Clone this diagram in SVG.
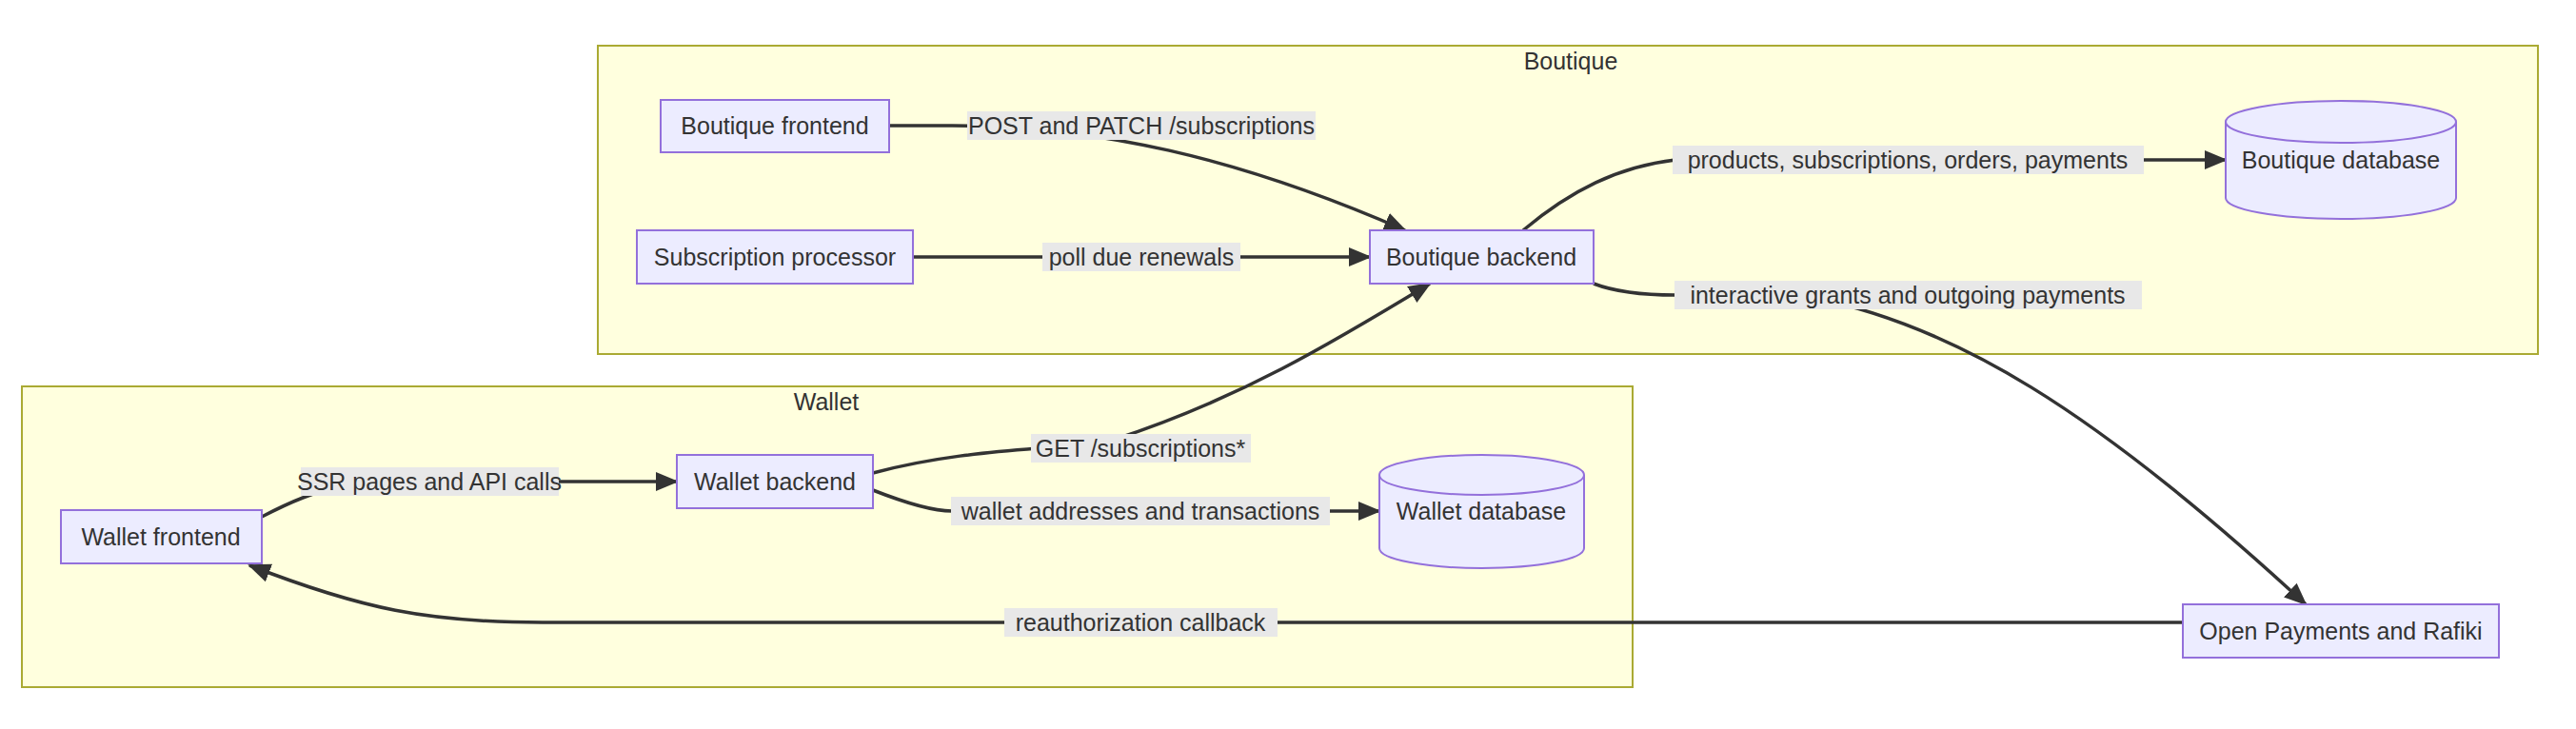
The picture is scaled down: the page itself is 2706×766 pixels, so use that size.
<svg xmlns="http://www.w3.org/2000/svg" width="2706" height="766" viewBox="0 0 2706 766">
<style>
.cl{fill:#ffffde;stroke:#aaaa33;stroke-width:2}
.nd{fill:#ececff;stroke:#9370db;stroke-width:2}
.t{font-family:"Liberation Sans",Arial,sans-serif;font-size:25px;fill:#333;text-anchor:middle;dominant-baseline:central}
.lb{fill:#e8e8e8}
.e{fill:none;stroke:#333;stroke-width:3.5;marker-end:url(#ah)}
</style>
<defs>
<marker id="ah" markerUnits="userSpaceOnUse" markerWidth="24" markerHeight="24" viewBox="0 0 24 24" refX="22" refY="12" orient="auto"><path d="M0,2 L24,12 L0,22 z" fill="#333"/></marker>
</defs>
<rect width="2706" height="766" fill="#fff"/>
<g id="cluster-boutique"><rect class="cl" x="628" y="48" width="2038" height="324"/><text class="t" x="1650" y="64">Boutique</text></g>
<g id="cluster-wallet"><rect class="cl" x="23" y="406" width="1692" height="316"/><text class="t" x="868" y="422">Wallet</text></g>
<g id="connectors">
<path class="e" d="M934,132 L1000,132 C1150,132 1300,165 1476,242"/>
<path class="e" d="M959,270 L1439,270"/>
<path class="e" d="M1600,242 C1650,200 1700,175 1760,168 L2338,168"/>
<path class="e" d="M1674,298 C1700,308 1730,310 1760,310 L1900,312 C2050,340 2200,430 2422,635"/>
<path class="e" d="M275,543 C300,530 330,515 380,506 L711,506"/>
<path class="e" d="M917,497 C980,480 1040,475 1090,471 L1170,462 C1300,420 1400,360 1502,298"/>
<path class="e" d="M917,515 C950,528 980,537 1000,537 L1449,537"/>
<path class="e" d="M2293,654 L570,654 C450,654 380,640 262,594"/>
</g>
<g id="edge-labels">
<rect class="lb" x="1016" y="117" width="366" height="30"/><text class="t" x="1199" y="132">POST and PATCH /subscriptions</text>
<rect class="lb" x="1095" y="255" width="208" height="30"/><text class="t" x="1199" y="270">poll due renewals</text>
<rect class="lb" x="1757" y="153" width="495" height="30"/><text class="t" x="2004" y="168">products, subscriptions, orders, payments</text>
<rect class="lb" x="1759" y="295" width="491" height="30"/><text class="t" x="2004" y="310">interactive grants and outgoing payments</text>
<rect class="lb" x="316" y="491" width="271" height="30"/><text class="t" x="451" y="506">SSR pages and API calls</text>
<rect class="lb" x="1083" y="456" width="231" height="30"/><text class="t" x="1198" y="471">GET /subscriptions*</text>
<rect class="lb" x="999" y="522" width="398" height="30"/><text class="t" x="1198" y="537">wallet addresses and transactions</text>
<rect class="lb" x="1055" y="639" width="287" height="30"/><text class="t" x="1198" y="654">reauthorization callback</text>
</g>
<g id="boutique-frontend"><rect class="nd" x="694" y="105" width="240" height="55"/><text class="t" x="814" y="132">Boutique frontend</text></g>
<g id="subscription-processor"><rect class="nd" x="669" y="242" width="290" height="56"/><text class="t" x="814" y="270">Subscription processor</text></g>
<g id="boutique-backend"><rect class="nd" x="1439" y="242" width="235" height="56"/><text class="t" x="1556" y="270">Boutique backend</text></g>
<g id="boutique-database"><path class="nd" d="M2338,128 A121,22 0 0 1 2580,128 L2580,208 A121,22 0 0 1 2338,208 Z"/><path class="nd" d="M2338,128 A121,22 0 0 0 2580,128" fill="none"/><text class="t" x="2459" y="168">Boutique database</text></g>
<g id="open-payments"><rect class="nd" x="2293" y="635" width="332" height="56"/><text class="t" x="2459" y="663">Open Payments and Rafiki</text></g>
<g id="wallet-frontend"><rect class="nd" x="64" y="536" width="211" height="56"/><text class="t" x="169" y="564">Wallet frontend</text></g>
<g id="wallet-backend"><rect class="nd" x="711" y="478" width="206" height="56"/><text class="t" x="814" y="506">Wallet backend</text></g>
<g id="wallet-database"><path class="nd" d="M1449,499 A107.5,21 0 0 1 1664,499 L1664,576 A107.5,21 0 0 1 1449,576 Z"/><path class="nd" d="M1449,499 A107.5,21 0 0 0 1664,499" fill="none"/><text class="t" x="1556" y="537">Wallet database</text></g>
</svg>
